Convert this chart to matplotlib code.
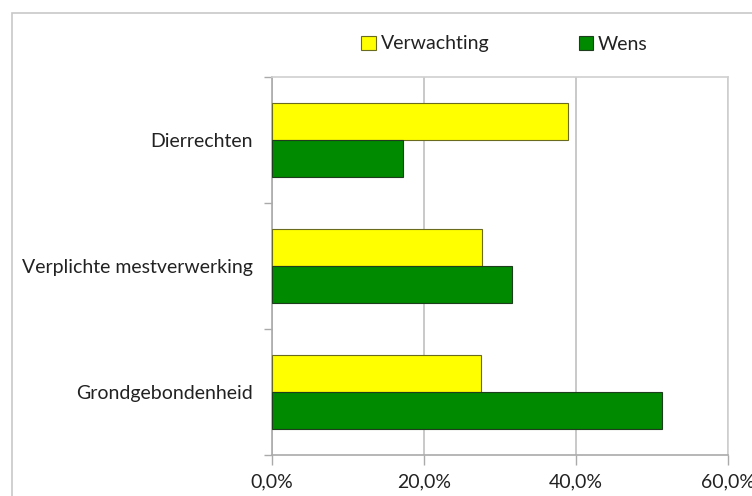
import matplotlib
matplotlib.use("Agg")
import matplotlib.pyplot as plt
from matplotlib.patches import Rectangle
from matplotlib.ticker import FuncFormatter
import numpy as np

categories = ["Dierrechten", "Verplichte mestverwerking", "Grondgebondenheid"]
verwachting = [38.9, 27.6, 27.5]
wens = [17.3, 31.6, 51.3]
xticks = [0, 20, 40, 60]

plt.rcParams['font.family'] = ['Lato', 'DejaVu Sans']
FS = 14

fig = plt.figure(figsize=(7.52, 4.96), dpi=100)
fig.patches.append(Rectangle((12/752, -0.1), 1.2, (1 - 13/496) + 0.1, transform=fig.transFigure,
                             fill=False, edgecolor='#c8c8c8', linewidth=1.2, zorder=0))

ax = fig.add_axes([272/752, 1 - 455/496, (728 - 272)/752, (455 - 77)/496])

n = len(categories)
y = np.arange(n)[::-1].astype(float)  # top category first
h = 0.29
ax.barh(y + h/2, verwachting, height=h, color='#ffff00', edgecolor='#6b6b20', linewidth=0.8,
        label='Verwachting', zorder=3)
ax.barh(y - h/2, wens, height=h, color='#008a00', edgecolor='#1e3d1e', linewidth=0.8,
        label='Wens', zorder=3)

ax.set_xlim(0, 60)
ax.set_ylim(-0.5, n - 0.5)
ax.set_xticks(xticks)
ax.xaxis.set_major_formatter(FuncFormatter(lambda v, p: f"{v:.1f}%".replace('.', ',')))
ax.set_yticks(y)
ax.set_yticklabels(categories)
ax.set_yticks(np.arange(n + 1) - 0.5, minor=True)
ax.tick_params(axis='y', which='major', length=0, pad=14, labelsize=FS, labelcolor='#222222')
ax.tick_params(axis='y', which='minor', length=6, color='#aaaaaa', width=1)
ax.tick_params(axis='x', length=7, color='#aaaaaa', width=1, pad=6, labelsize=FS,
               labelcolor='#222222')

ax.grid(axis='x', color='#c0c0c0', linewidth=1.2, zorder=0)
for s in ['left', 'bottom']:
    ax.spines[s].set_color('#aaaaaa')
    ax.spines[s].set_linewidth(1.2)
for s in ['top', 'right']:
    ax.spines[s].set_color('#d0d0d0')
    ax.spines[s].set_linewidth(1.2)

leg = fig.legend(loc='center', bbox_to_anchor=(0.671, 1 - 44/496), ncol=2, frameon=False,
                 fontsize=FS, handlelength=0.75, handleheight=0.75, handletextpad=0.25,
                 columnspacing=4.6)
for t in leg.get_texts():
    t.set_color('#222222')

fig.savefig('out.png', dpi=100)
